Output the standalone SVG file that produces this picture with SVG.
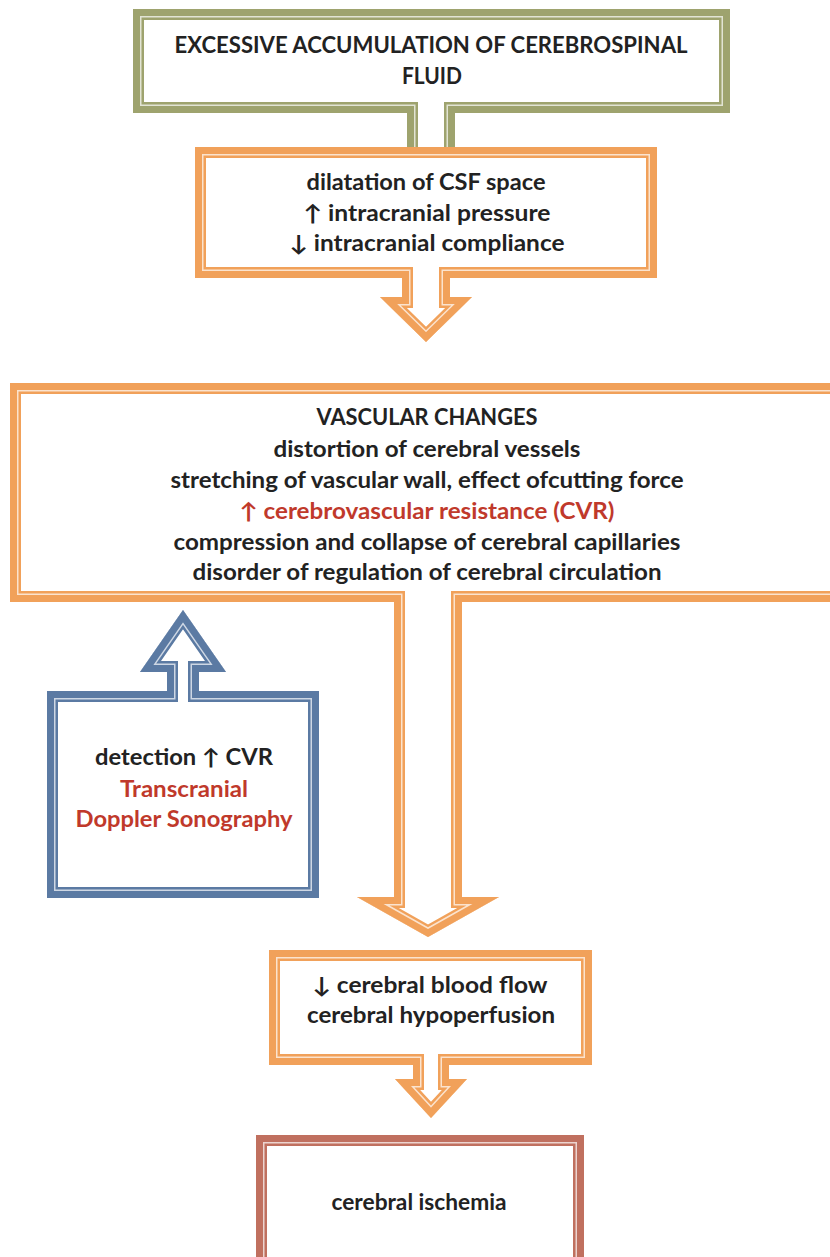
<svg xmlns="http://www.w3.org/2000/svg" xmlns:xlink="http://www.w3.org/1999/xlink" width="830" height="1257" viewBox="0 0 830 1257">
<style>
.t{font-family:Lato,"Liberation Sans",sans-serif;font-weight:bold;font-size:22px;fill:#222;text-anchor:middle}
.r{fill:#c0392b}
.bg{fill:#fff;stroke:none}
.w1{fill:none;stroke-width:22;stroke-linejoin:miter;stroke-miterlimit:20}
.w2{fill:none;stroke-width:17;stroke-linejoin:miter;stroke-miterlimit:20;stroke:#fff;stroke-opacity:0.7}
.w3{fill:none;stroke-width:14;stroke-linejoin:miter;stroke-miterlimit:20}
.green{stroke:#9ea36e}
.orange{stroke:#f1a15a}
.blue{stroke:#5b7aa3}
.brown{stroke:#c0705f}
</style>
<defs>
<path id="p1" d="M133,9 H730 V113 H455 V165 H407 V113 H133 Z"/>
<path id="p2" d="M195,147 H657 V278 H450 V297 H472 L426,342 L380,297 H402 V278 H195 Z"/>
<path id="p3" d="M10,383 H845 V602 H462 V897 H499 L428,937 L357,897 H394 V602 H10 Z"/>
<path id="p4" d="M47,691 H167 V672 H140 L183,610 L226,672 H199 V691 H319 V898 H47 Z"/>
<path id="p5" d="M269,950 H592 V1065 H449 V1079 H467 L431,1118 L395,1079 H413 V1065 H269 Z"/>
<path id="p6" d="M256,1135 H584 V1275 H256 Z"/>
<clipPath id="c1"><use xlink:href="#p1"/></clipPath>
<clipPath id="c2"><use xlink:href="#p2"/></clipPath>
<clipPath id="c3"><use xlink:href="#p3"/></clipPath>
<clipPath id="c4"><use xlink:href="#p4"/></clipPath>
<clipPath id="c5"><use xlink:href="#p5"/></clipPath>
<clipPath id="c6"><use xlink:href="#p6"/></clipPath>
</defs>
<rect width="830" height="1257" fill="#fff"/>
<g id="connectors"></g>
<g id="node1">
<g clip-path="url(#c1)">
<use xlink:href="#p1" class="bg"/><use xlink:href="#p1" class="w1 green"/><use xlink:href="#p1" class="w2"/><use xlink:href="#p1" class="w3 green"/>
</g>
<text class="t" x="431" y="53" textLength="513" lengthAdjust="spacingAndGlyphs">EXCESSIVE ACCUMULATION OF CEREBROSPINAL</text>
<text class="t" x="432" y="84" textLength="60" lengthAdjust="spacingAndGlyphs">FLUID</text>
</g>
<g id="node2">
<g clip-path="url(#c2)">
<use xlink:href="#p2" class="bg"/><use xlink:href="#p2" class="w1 orange"/><use xlink:href="#p2" class="w2"/><use xlink:href="#p2" class="w3 orange"/>
</g>
<text class="t" x="426" y="190" textLength="239" lengthAdjust="spacingAndGlyphs">dilatation of CSF space</text>
<text class="t" x="427" y="221" textLength="247" lengthAdjust="spacingAndGlyphs">↑ intracranial pressure</text>
<text class="t" x="427" y="251" textLength="275" lengthAdjust="spacingAndGlyphs">↓ intracranial compliance</text>
</g>
<g id="node3">
<g clip-path="url(#c3)">
<use xlink:href="#p3" class="bg"/><use xlink:href="#p3" class="w1 orange"/><use xlink:href="#p3" class="w2"/><use xlink:href="#p3" class="w3 orange"/>
</g>
<text class="t" x="427" y="425" textLength="221" lengthAdjust="spacingAndGlyphs">VASCULAR CHANGES</text>
<text class="t" x="427" y="457" textLength="307" lengthAdjust="spacingAndGlyphs">distortion of cerebral vessels</text>
<text class="t" x="427" y="488" textLength="513" lengthAdjust="spacingAndGlyphs">stretching of vascular wall, effect ofcutting force</text>
<text class="t r" x="427" y="519" textLength="375" lengthAdjust="spacingAndGlyphs">↑ cerebrovascular resistance (CVR)</text>
<text class="t" x="427" y="550" textLength="507" lengthAdjust="spacingAndGlyphs">compression and collapse of cerebral capillaries</text>
<text class="t" x="427" y="580" textLength="469" lengthAdjust="spacingAndGlyphs">disorder of regulation of cerebral circulation</text>
</g>
<g id="node4">
<g clip-path="url(#c4)">
<use xlink:href="#p4" class="bg"/><use xlink:href="#p4" class="w1 blue"/><use xlink:href="#p4" class="w2"/><use xlink:href="#p4" class="w3 blue"/>
</g>
<text class="t" x="184" y="765" textLength="178" lengthAdjust="spacingAndGlyphs">detection ↑ CVR</text>
<text class="t r" x="184" y="797" textLength="128" lengthAdjust="spacingAndGlyphs">Transcranial</text>
<text class="t r" x="184" y="827" textLength="217" lengthAdjust="spacingAndGlyphs">Doppler Sonography</text>
</g>
<g id="node5">
<g clip-path="url(#c5)">
<use xlink:href="#p5" class="bg"/><use xlink:href="#p5" class="w1 orange"/><use xlink:href="#p5" class="w2"/><use xlink:href="#p5" class="w3 orange"/>
</g>
<text class="t" x="430" y="993" textLength="235" lengthAdjust="spacingAndGlyphs">↓ cerebral blood flow</text>
<text class="t" x="431" y="1023" textLength="248" lengthAdjust="spacingAndGlyphs">cerebral hypoperfusion</text>
</g>
<g id="node6">
<g clip-path="url(#c6)">
<use xlink:href="#p6" class="bg"/><use xlink:href="#p6" class="w1 brown"/><use xlink:href="#p6" class="w2"/><use xlink:href="#p6" class="w3 brown"/>
</g>
<text class="t" x="419" y="1210" textLength="175" lengthAdjust="spacingAndGlyphs">cerebral ischemia</text>
</g>
</svg>
